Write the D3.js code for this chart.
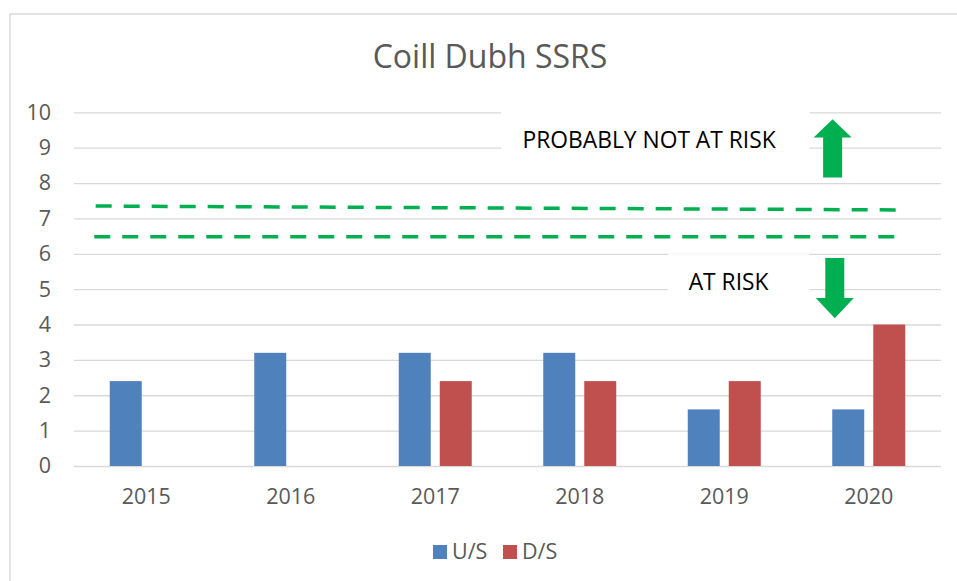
<!DOCTYPE html>
<html>
<head>
<meta charset="utf-8">
<script src="https://cdn.jsdelivr.net/npm/d3@7"></script>
<style>
  body { margin: 0; background: #fff; }
  svg text { font-family: "Open Sans", "Liberation Sans", sans-serif; }
</style>
</head>
<body>
<div id="chart"></div>
<script>
// chart data
const years = ["2015", "2016", "2017", "2018", "2019", "2020"];
const seriesNames = ["U/S", "D/S"];
const upstream = [2.4, 3.2, 3.2, 3.2, 1.6, 1.6];
const downstream = [null, null, 2.4, 2.4, 2.4, 4.0];
const yTicks = [0, 1, 2, 3, 4, 5, 6, 7, 8, 9, 10];

// threshold lines, pos in category units (0..6), value on y axis
const upperLine = [{ pos: 0.15, v: 7.35 }, { pos: 5.7, v: 7.24 }];
const lowerLine = [{ pos: 0.14, v: 6.48 }, { pos: 5.7, v: 6.48 }];

// annotation boxes / labels
const notes = [
    { text: "PROBABLY NOT AT RISK", x0: 2.955, x1: 5.09, top: 10.02, bottom: 8.93, tx: 3.98, ty: 9.0 },
    { text: "AT RISK", x0: 4.11, x1: 5.09, top: 5.99, bottom: 4.83, tx: 4.53, ty: 4.97 }
];
const arrows = [
    { pos: 5.25, tip: 9.8, head: 9.29, tail: 8.16 },
    { pos: 5.265, tip: 4.18, head: 4.75, tail: 5.88 }
];

const config = {
    width: 957,
    height: 581,
    margin: { top: 112.3, left: 74, bottom: 115, right: 16 },
    blue: "#4f81bd",
    red: "#c0504d",
    green: "#00b050",
    gridColor: "#d9d9d9",
    textColor: "#595959",
    tickFont: "21.5px",
};

const svg = d3.select("#chart")
    .append("svg")
    .attr("width", config.width)
    .attr("height", config.height);

// chart area border (runs off the right/bottom edge)
svg.append("rect")
    .attr("x", 10).attr("y", 14)
    .attr("width", 1000).attr("height", 600)
    .attr("fill", "#fff")
    .attr("stroke", config.gridColor)
    .attr("stroke-width", 1.5);

svg.append("text")
    .attr("x", 490).attr("y", 68)
    .attr("text-anchor", "middle")
    .attr("fill", config.textColor)
    .style("font-size", "32px")
    .text("Coill Dubh SSRS");

const plotLeft = config.margin.left;
const plotRight = config.width - config.margin.right;
const plotBottom = config.height - config.margin.bottom;

const scale_x = d3.scaleBand()
    .domain(years)
    .range([plotLeft, plotRight])
    .padding(0);
const scale_pos = d3.scaleLinear()
    .domain([0, years.length])
    .range([plotLeft, plotRight]);
const bw = scale_x.bandwidth();
const groupW = 73;
const scale_sub = d3.scaleBand()
    .domain(seriesNames)
    .range([(bw - groupW) / 2, (bw + groupW) / 2])
    .paddingInner(0.22);
const scale_y = d3.scaleLinear()
    .domain([0, 10])
    .range([plotBottom, config.margin.top]);

// y axis + gridlines
const g_axisY = svg.append("g")
    .attr("transform", `translate(${plotLeft}, 0)`)
    .call(d3.axisLeft(scale_y)
        .tickValues(yTicks)
        .tickSizeInner(-(plotRight - plotLeft))
        .tickSizeOuter(0)
        .tickPadding(23));
g_axisY.select(".domain").remove();
g_axisY.selectAll("line").attr("stroke", config.gridColor).attr("stroke-width", 1.3);
g_axisY.selectAll("text")
    .attr("fill", config.textColor)
    .style("font-size", config.tickFont)
    .style("font-family", "'Open Sans', sans-serif");

// x axis labels
const g_axisX = svg.append("g")
    .attr("transform", `translate(0, ${plotBottom})`)
    .call(d3.axisBottom(scale_x).tickSize(0).tickPadding(23));
g_axisX.select(".domain").remove();
g_axisX.selectAll("text")
    .attr("fill", config.textColor)
    .style("font-size", config.tickFont)
    .style("font-family", "'Open Sans', sans-serif");

// bars
const rows = years.map((y, i) => ({ year: y, "U/S": upstream[i], "D/S": downstream[i] }));
const colors = { "U/S": config.blue, "D/S": config.red };
const g_bars = svg.append("g");
g_bars.selectAll("g")
    .data(rows)
    .join("g")
    .attr("transform", d => `translate(${scale_x(d.year)}, 0)`)
    .selectAll("rect")
    .data(d => seriesNames.filter(s => d[s] != null).map(s => ({ key: s, value: d[s] })))
    .join("rect")
    .attr("x", d => scale_sub(d.key))
    .attr("y", d => scale_y(d.value))
    .attr("width", scale_sub.bandwidth())
    .attr("height", d => plotBottom - scale_y(d.value))
    .attr("fill", d => colors[d.key]);

// dashed threshold lines
const line = d3.line().x(d => scale_pos(d.pos)).y(d => scale_y(d.v));
[upperLine, lowerLine].forEach(pts => {
    svg.append("path")
        .attr("d", line(pts))
        .attr("fill", "none")
        .attr("stroke", config.green)
        .attr("stroke-width", 3.5)
        .attr("stroke-dasharray", "16 12");
});

// annotation boxes
const g_notes = svg.append("g");
notes.forEach(n => {
    g_notes.append("rect")
        .attr("x", scale_pos(n.x0))
        .attr("y", scale_y(n.top))
        .attr("width", scale_pos(n.x1) - scale_pos(n.x0))
        .attr("height", scale_y(n.bottom) - scale_y(n.top))
        .attr("fill", "#fff");
    g_notes.append("text")
        .attr("x", scale_pos(n.tx))
        .attr("y", scale_y(n.ty))
        .attr("text-anchor", "middle")
        .attr("fill", "#000")
        .style("font-size", "22.8px")
        .text(n.text);
});

// block arrows
const shaftHalf = 9.5, headHalf = 19;
arrows.forEach(a => {
    const cx = scale_pos(a.pos);
    const tip = scale_y(a.tip), head = scale_y(a.head), tail = scale_y(a.tail);
    const pts = [
        [cx, tip], [cx + headHalf, head], [cx + shaftHalf, head], [cx + shaftHalf, tail],
        [cx - shaftHalf, tail], [cx - shaftHalf, head], [cx - headHalf, head]
    ];
    svg.append("path")
        .attr("d", d3.line()(pts) + "Z")
        .attr("fill", config.green);
});

// legend
const legend = svg.append("g").attr("transform", "translate(433, 545)");
const legendX = [0, 70];
seriesNames.forEach((s, i) => {
    const g = legend.append("g").attr("transform", `translate(${legendX[i]}, 0)`);
    g.append("rect").attr("width", 14).attr("height", 14).attr("fill", colors[s]);
    g.append("text")
        .attr("x", 19).attr("y", 14)
        .attr("fill", config.textColor)
        .style("font-size", "21.5px")
        .text(s);
});
</script>
</body>
</html>
